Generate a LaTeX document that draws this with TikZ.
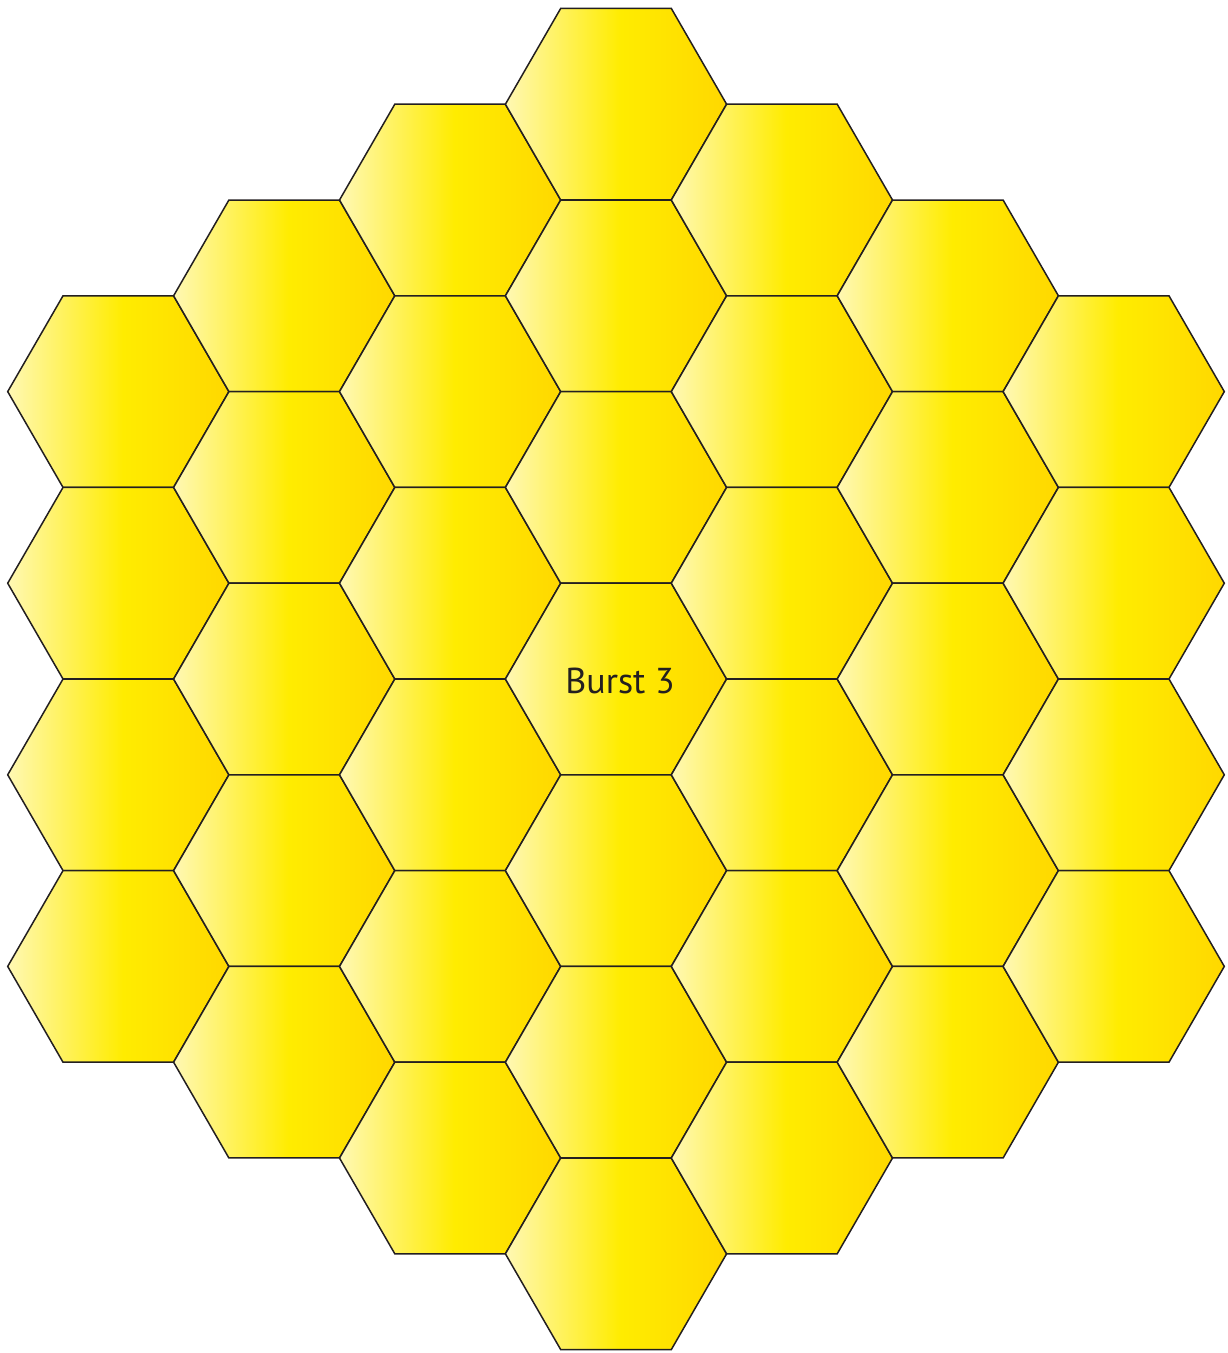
\documentclass[tikz,border=0pt]{standalone}
\usepackage{fontspec}
\newfontfamily\burstfont{PT Sans}
\usetikzlibrary{shapes.geometric}
\definecolor{honeylight}{RGB}{255,248,180}
\definecolor{honeymid}{RGB}{255,236,0}
\definecolor{honeydark}{RGB}{255,216,0}
\definecolor{combline}{RGB}{35,31,32}
\pgfdeclarehorizontalshading{honey}{100bp}{color(0bp)=(honeylight); color(25bp)=(honeylight); color(51bp)=(honeymid); color(75bp)=(honeydark); color(100bp)=(honeydark)}

\begin{document}
\begin{tikzpicture}[
    x=1pt, y=-1pt,
    hexcell/.style={regular polygon, regular polygon sides=6, minimum size=221.2pt,
        inner sep=0pt, outer sep=0pt, draw=combline, line width=1.5pt, shading=honey},
    burst/.style={font=\burstfont\fontsize{36}{40}\selectfont, text=combline},
]
\useasboundingbox (0,0) rectangle (1228,1353);
% columns of the comb, centre column has seven cells
\foreach \c in {0,...,6}{
    \pgfmathtruncatemacro\n{6-abs(\c-3)}
    \foreach \r in {0,...,\n}{
        \node[hexcell] (h\c\r) at ({616+165.9*(\c-3)},{679+191.6*(\r-\n/2)}) {};
    }
}
\node[burst] (label) at ([xshift=4pt,yshift=-2pt]h33.center) {Burst 3};
\end{tikzpicture}
\end{document}
